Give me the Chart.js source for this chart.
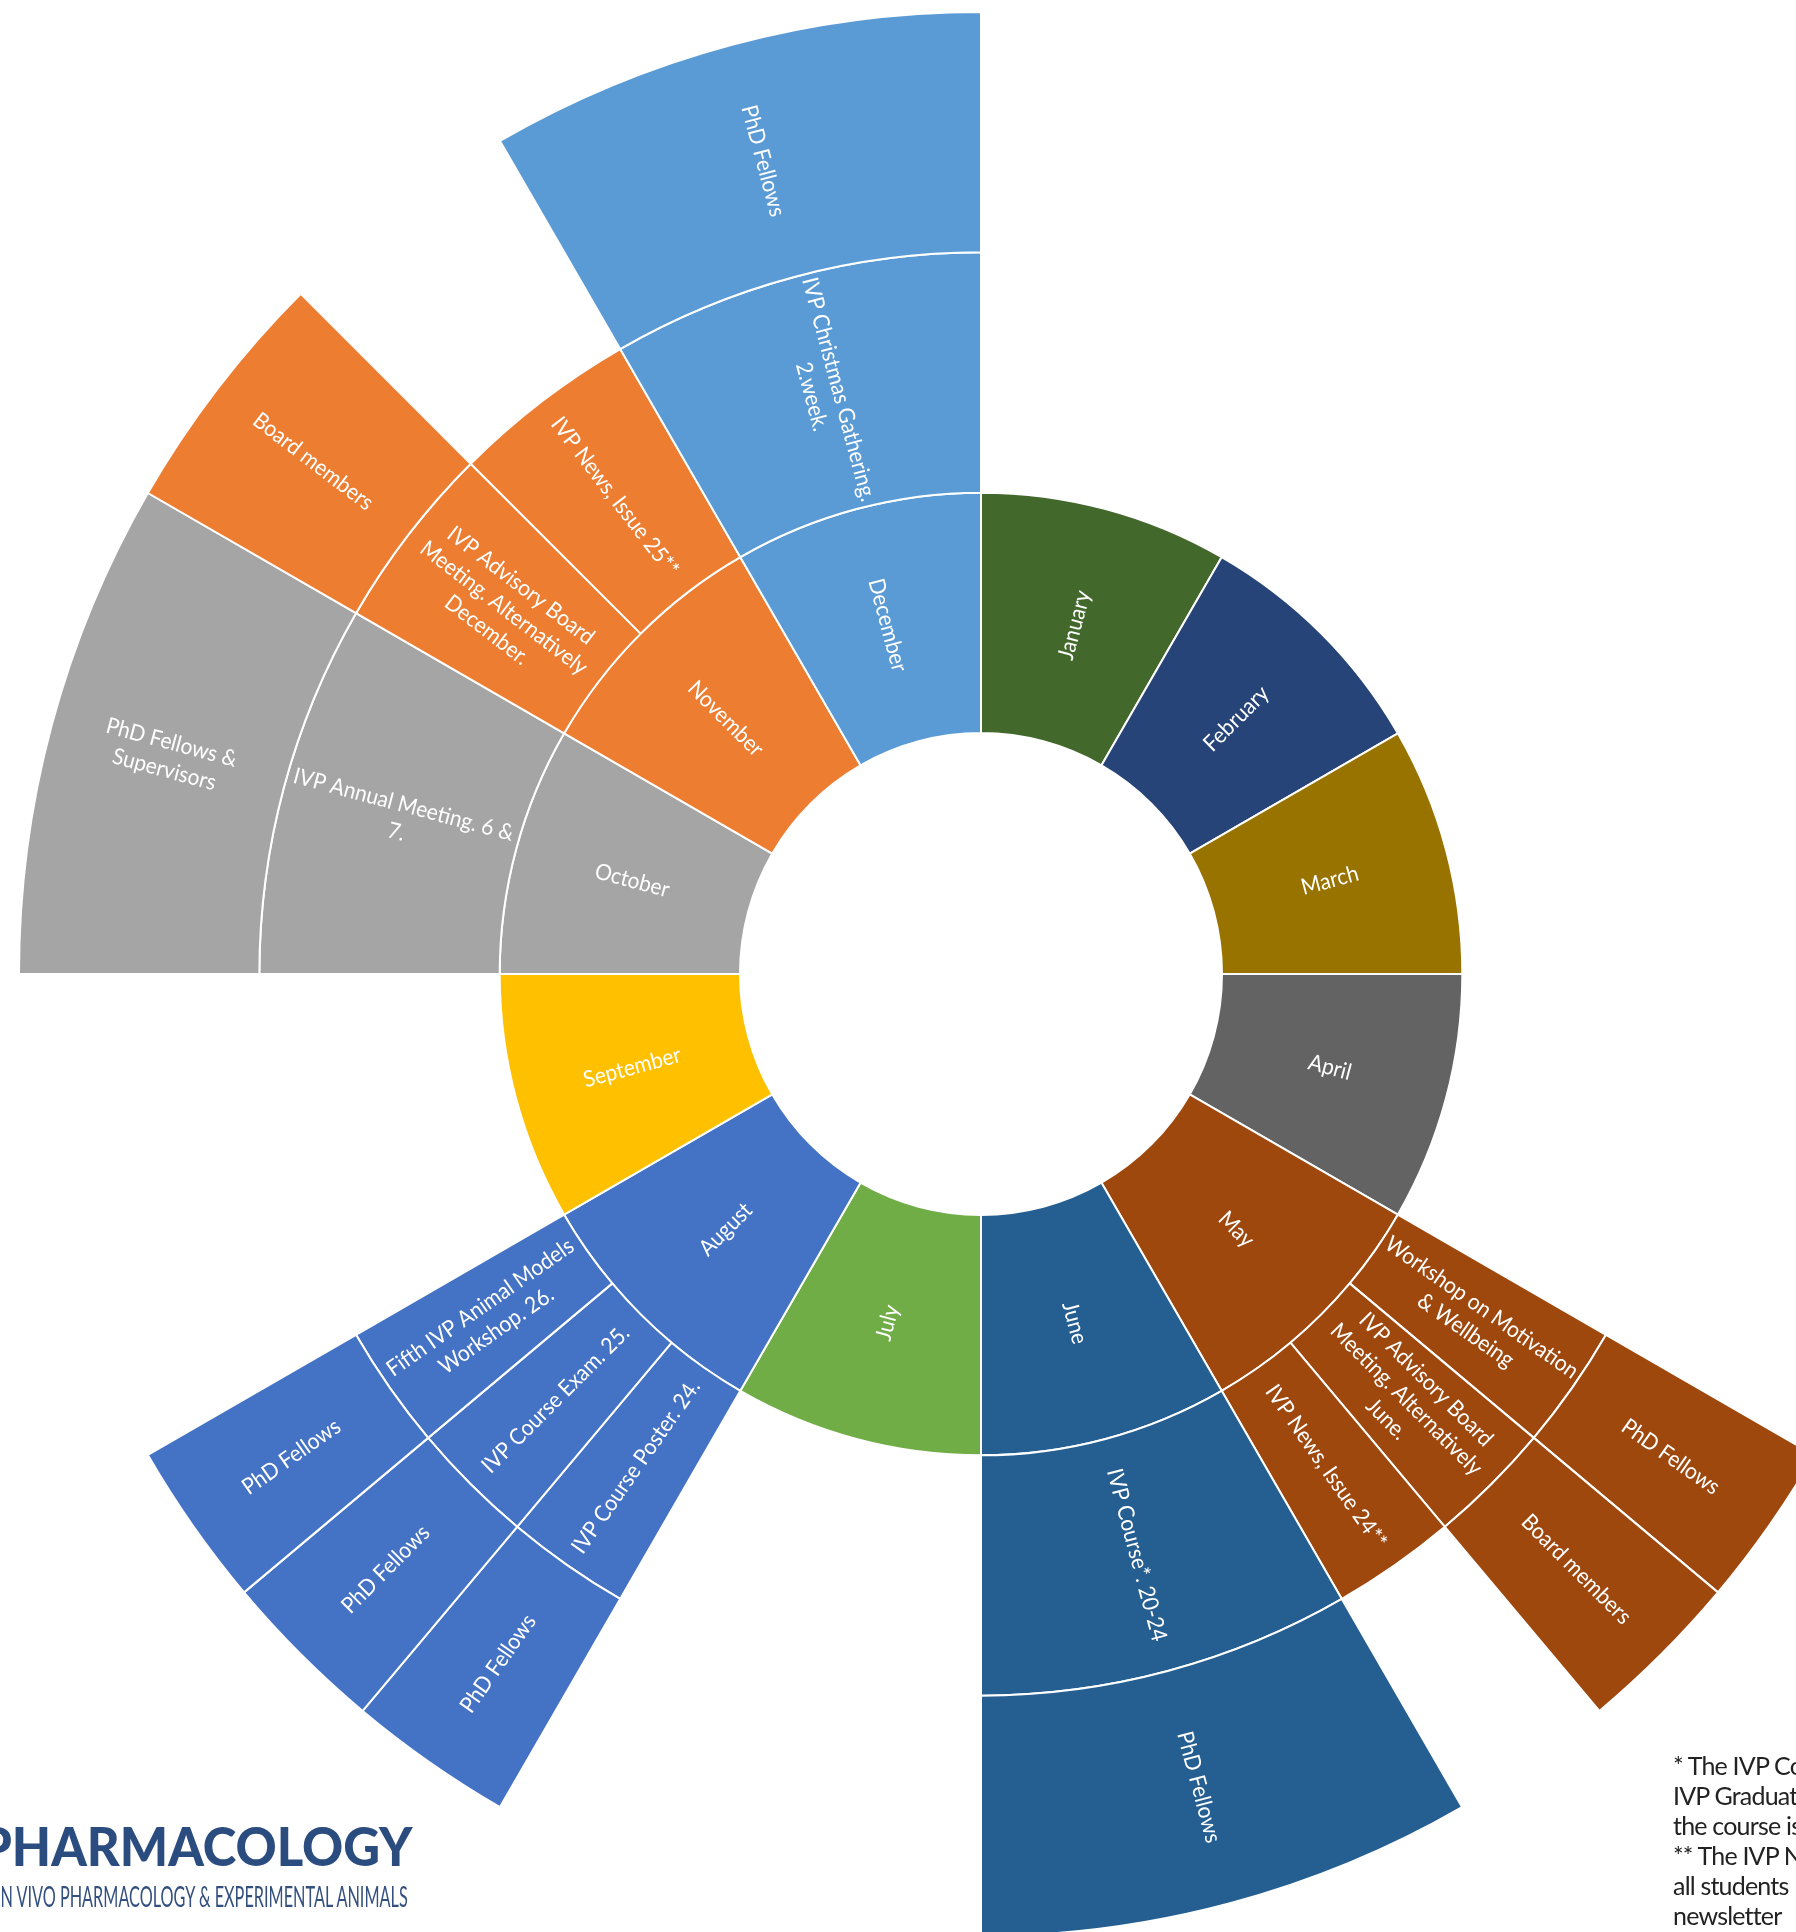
<!DOCTYPE html>
<html>
<head>
<meta charset="utf-8">
<title>IVP year wheel</title>
<script src="https://cdn.jsdelivr.net/npm/chart.js@4.4.0/dist/chart.umd.min.js"></script>
<style>
  html, body { margin: 0; padding: 0; background: #fff; overflow: hidden; }
  #wheel { position: absolute; left: 0; top: 0; }
  .note { position: absolute; left: 1673px; top: 1750px; font-family: Lato, sans-serif; font-size: 25px;
          line-height: 30px; color: #222; white-space: nowrap; letter-spacing: -0.8px; }
  .logo { position: absolute; white-space: nowrap; font-family: Lato, sans-serif; color: #2B4C7E;
          transform-origin: right center; }
  #logoBig { top: 1819px; font-size: 54px; line-height: 54px; font-weight: 900; }
  #logoSmall { top: 1882px; font-size: 28px; line-height: 28px; color: #34507F; }
</style>
</head>
<body>
<canvas id="wheel" width="1796" height="1932"></canvas>

<div class="logo" id="logoBig">PHARMACOLOGY</div>
<div class="logo" id="logoSmall">IN VIVO PHARMACOLOGY &amp; EXPERIMENTAL ANIMALS</div>

<div class="note">
  * The IVP Course<br>
  IVP Graduate<br>
  the course is<br>
  ** The IVP News<br>
  all students<br>
  newsletter
</div>

<script>
// inner ring: months
const months = ['January', 'February', 'March', 'April', 'May', 'June',
                'July', 'August', 'September', 'October', 'November', 'December'];
const monthColours = ['#43682B', '#264478', '#997300', '#636363', '#9E480E', '#255E91',
                      '#70AD47', '#4472C4', '#FFC000', '#A5A5A5', '#ED7D31', '#5B9BD5'];

// middle ring: events, with the month (index) they belong to
const events = [
  'Workshop on Motivation & Wellbeing',
  'IVP Advisory Board Meeting. Alternatively June.',
  'IVP News, Issue 24**',
  'IVP Course*. 20-24',
  'IVP Course Poster. 24.',
  'IVP Course Exam. 25.',
  'Fifth IVP Animal Models Workshop. 26.',
  'IVP Annual Meeting. 6 & 7.',
  'IVP Advisory Board Meeting. Alternatively December.',
  'IVP News, Issue 25**',
  'IVP Christmas Gathering. 2.week.'
];
const eventMonth = [4, 4, 4, 5, 7, 7, 7, 9, 10, 10, 11];

// outer ring: who each event is for (null = nothing)
const audiences = ['PhD Fellows', 'Board members', null, 'PhD Fellows', 'PhD Fellows', 'PhD Fellows',
                   'PhD Fellows', 'PhD Fellows & Supervisors', 'Board members', null, 'PhD Fellows'];

const GAP = 'rgba(0,0,0,0)';
const ring2 = {values: [], names: [], colours: [], borders: []};
const ring3 = {values: [], names: [], colours: [], borders: []};

months.forEach(function (m, mi) {
  const kids = events.map(function (e, i) { return i; }).filter(function (i) { return eventMonth[i] === mi; });
  if (!kids.length) {
    [ring2, ring3].forEach(function (r) {
      r.values.push(1); r.names.push(null); r.colours.push(GAP); r.borders.push(0);
    });
    return;
  }
  kids.forEach(function (i) {
    const share = 1 / kids.length;
    ring2.values.push(share); ring2.names.push(events[i]);
    ring2.colours.push(monthColours[mi]); ring2.borders.push(2);
    const a = audiences[i];
    ring3.values.push(share); ring3.names.push(a);
    ring3.colours.push(a ? monthColours[mi] : GAP); ring3.borders.push(a ? 2 : 0);
  });
});

// Lato is a bit wider than the original font, squeeze it horizontally
const SQUEEZE = 0.93;

function wrapText(ctx, text, maxW) {
  const words = text.split(' ');
  const lines = [];
  let line = '';
  words.forEach(function (w) {
    const test = line ? line + ' ' + w : w;
    if (line && ctx.measureText(test).width * SQUEEZE > maxW) { lines.push(line); line = w; }
    else line = test;
  });
  if (line) lines.push(line);
  return lines;
}

// radial labels, flipped on the left half so they stay readable
const ringLabels = {
  id: 'ringLabels',
  afterDatasetsDraw: function (chart) {
    const ctx = chart.ctx;
    const fontSize = 22.5, lineH = 28;
    ctx.save();
    ctx.font = fontSize + 'px Lato';
    ctx.fillStyle = '#ffffff';
    ctx.textAlign = 'center';
    ctx.textBaseline = 'middle';
    chart.data.datasets.forEach(function (ds, di) {
      const meta = chart.getDatasetMeta(di);
      meta.data.forEach(function (arc, i) {
        const text = ds.names[i];
        if (!text) return;
        const p = arc.getProps(['x', 'y', 'startAngle', 'endAngle', 'innerRadius', 'outerRadius'], true);
        const mid = (p.startAngle + p.endAngle) / 2;
        const r = (p.innerRadius + p.outerRadius) / 2;
        const lines = wrapText(ctx, text, p.outerRadius - p.innerRadius - 2);
        ctx.save();
        ctx.translate(p.x + Math.cos(mid) * r, p.y + Math.sin(mid) * r);
        ctx.rotate(Math.cos(mid) >= 0 ? mid : mid + Math.PI);
        ctx.scale(SQUEEZE, 1);
        lines.forEach(function (l, k) {
          ctx.fillText(l, 0, (k - (lines.length - 1) / 2) * lineH);
        });
        ctx.restore();
      });
    });
    ctx.restore();
  }
};

const ctx = document.getElementById('wheel').getContext('2d');
const chart = new Chart(ctx, {
  type: 'doughnut',
  data: {
    datasets: [
      {data: ring3.values, names: ring3.names, backgroundColor: ring3.colours,
       borderColor: '#ffffff', borderWidth: ring3.borders},
      {data: ring2.values, names: ring2.names, backgroundColor: ring2.colours,
       borderColor: '#ffffff', borderWidth: ring2.borders},
      {data: months.map(function () { return 1; }), names: months, backgroundColor: monthColours,
       borderColor: '#ffffff', borderWidth: 2}
    ]
  },
  options: {
    responsive: false,
    animation: false,
    events: [],
    radius: 962,
    cutout: '25.05%',
    layout: {padding: {left: 166, top: 16, right: 0, bottom: 0}},
    plugins: {legend: {display: false}, tooltip: {enabled: false}}
  },
  plugins: [ringLabels]
});

// fit the logo lines to their spans in the picture (right edge anchored)
function fitLogo(id, left, right) {
  const el = document.getElementById(id);
  const w = el.offsetWidth;
  el.style.left = (right - w) + 'px';
  el.style.transform = 'scaleX(' + ((right - left) / w) + ')';
}
fitLogo('logoBig', -20, 413);
fitLogo('logoSmall', -4, 408);
</script>
</body>
</html>
